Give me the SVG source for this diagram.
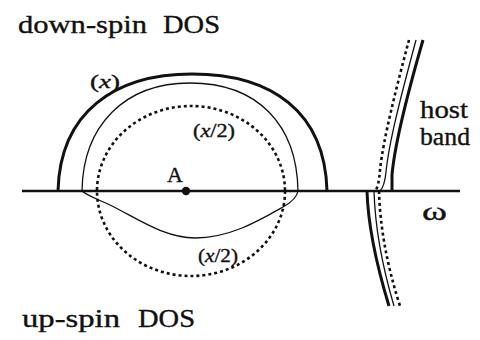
<svg xmlns="http://www.w3.org/2000/svg" width="480" height="340" viewBox="0 0 480 340" font-family="'Liberation Serif', 'Times New Roman', 'DejaVu Serif', serif">
<style>
text{font-family:'Liberation Serif','Times New Roman','DejaVu Serif',serif;fill:#111;stroke:#111;stroke-width:0.35}
.lbl{font-size:25px}
.sm{font-size:18px}
.thick{fill:none;stroke:#111;stroke-width:3}
.thin{fill:none;stroke:#111;stroke-width:1.3}
.dot{fill:none;stroke:#111;stroke-width:2.6;stroke-dasharray:3 3}
.axis{fill:none;stroke:#111;stroke-width:2.4}
</style>
<rect width="480" height="340" fill="#fff"/>
<g id="labels">
<text class="lbl" y="33"><tspan x="18" textLength="129" lengthAdjust="spacingAndGlyphs">down-spin</tspan><tspan x="163" textLength="57" lengthAdjust="spacingAndGlyphs">DOS</tspan></text>
<text class="lbl" y="327"><tspan x="22" textLength="98" lengthAdjust="spacingAndGlyphs">up-spin</tspan><tspan x="138" textLength="57" lengthAdjust="spacingAndGlyphs">DOS</tspan></text>
</g>
<g id="axis">
<line class="axis" x1="22" y1="191" x2="460" y2="191"/>
<text class="lbl" x="422" y="220" textLength="25" lengthAdjust="spacingAndGlyphs" font-size="26">ω</text>
</g>
<g id="connectors">
<path id="dos-x" class="thick" d="M58 191 C60 112 115 74 192 74 C272 74 325 112 327 191"/>
<path id="dos-thin-up" class="thin" d="M82 191 C83 125 125 83 190 83 C258 83 297 125 298 191"/>
<path id="dos-thin-down" class="thin" d="M82 191 C88 196 95 198 110 205 C140 220 165 238 195 238 C230 238 260 220 283 207 C292 202 297 197 298 191"/>
<ellipse id="dos-x2" class="dot" cx="191" cy="191" rx="94" ry="85"/>
</g>
<g id="host-band">
<path class="thick" d="M423 40 C410 85 395 140 392 175 L392 191"/>
<path class="thin" d="M416 40 C404 85 389 140 386 172 C385 182 383 188 380 191"/>
<path class="dot" d="M409 40 C397 85 383 140 380 170 C379 181 378 188 375 191"/>
<path class="thick" d="M367 191 C368 225 375 260 389 306"/>
<path class="thin" d="M374 191 C375 225 381 262 394 306"/>
<path class="dot" d="M379 191 C380 225 386 262 400 306"/>
<text class="lbl"><tspan x="420" y="118" textLength="48" lengthAdjust="spacingAndGlyphs">host</tspan><tspan x="420" y="145" textLength="50" lengthAdjust="spacingAndGlyphs">band</tspan></text>
</g>
<g id="node-A">
<circle cx="186" cy="191" r="4.2" fill="#111"/>
<text x="175" y="182" font-size="22" text-anchor="middle">A</text>
</g>
<g id="label-x">
<text class="sm" x="90" y="88" font-size="20" textLength="30" lengthAdjust="spacingAndGlyphs">(<tspan font-style="italic">x</tspan>)</text>
</g>
<g id="label-x2-up">
<text class="sm" x="193" y="137" textLength="42" lengthAdjust="spacingAndGlyphs">(<tspan font-style="italic">x</tspan>/2)</text>
</g>
<g id="label-x2-down">
<text class="sm" x="198" y="262" textLength="40" lengthAdjust="spacingAndGlyphs">(<tspan font-style="italic">x</tspan>/2)</text>
</g>
</svg>
